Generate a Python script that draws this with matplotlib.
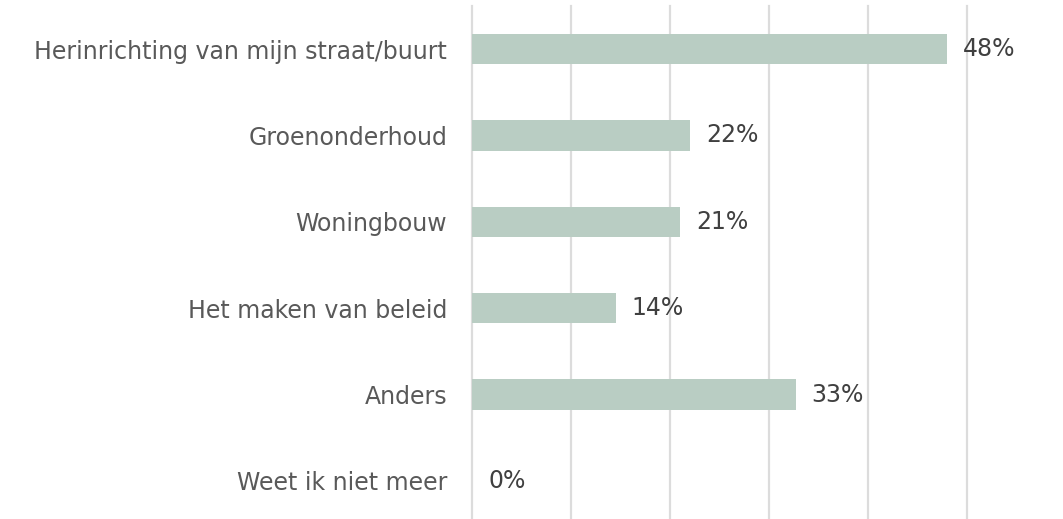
import matplotlib
matplotlib.use("Agg")
import matplotlib.pyplot as plt

categories = ["Herinrichting van mijn straat/buurt", "Groenonderhoud", "Woningbouw",
              "Het maken van beleid", "Anders", "Weet ik niet meer"]
values = [0.48, 0.22, 0.21, 0.145, 0.327, 0.0]
value_labels = ["48%", "22%", "21%", "14%", "33%", "0%"]
grid_ticks = [0, 0.1, 0.2, 0.3, 0.4, 0.5]

W, H = 1063, 519
fig = plt.figure(figsize=(W / 100, H / 100), dpi=100)
top_px, bot_px = 5.8, 524.2
ax = fig.add_axes([472 / W, (H - bot_px) / H, (967 - 472) / W, (bot_px - top_px) / H])

y = list(range(len(categories)))
ax.barh(y, values, height=0.35, color="#b9cdc3", zorder=3)
ax.set_ylim(len(categories) - 0.5, -0.5)
ax.set_xlim(0, 0.5)
ax.set_xticks(grid_ticks)
for gx in grid_ticks:
    ax.axvline(gx, color="#dcdcdc", linewidth=1.6, zorder=0, clip_on=False)
ax.tick_params(axis="x", which="both", length=0, labelbottom=False)
ax.tick_params(axis="y", length=0, pad=18)
ax.set_yticks(y)
ax.set_yticklabels(categories, fontsize=17, color="#595959")
for s in ax.spines.values():
    s.set_visible(False)

for yi, v, lab in zip(y, values, value_labels):
    ax.annotate(lab, (v, yi), xytext=(16, 0), textcoords="offset pixels",
                ha="left", va="center", fontsize=17, color="#404040", zorder=4)

fig.savefig("out.png", dpi=100)
